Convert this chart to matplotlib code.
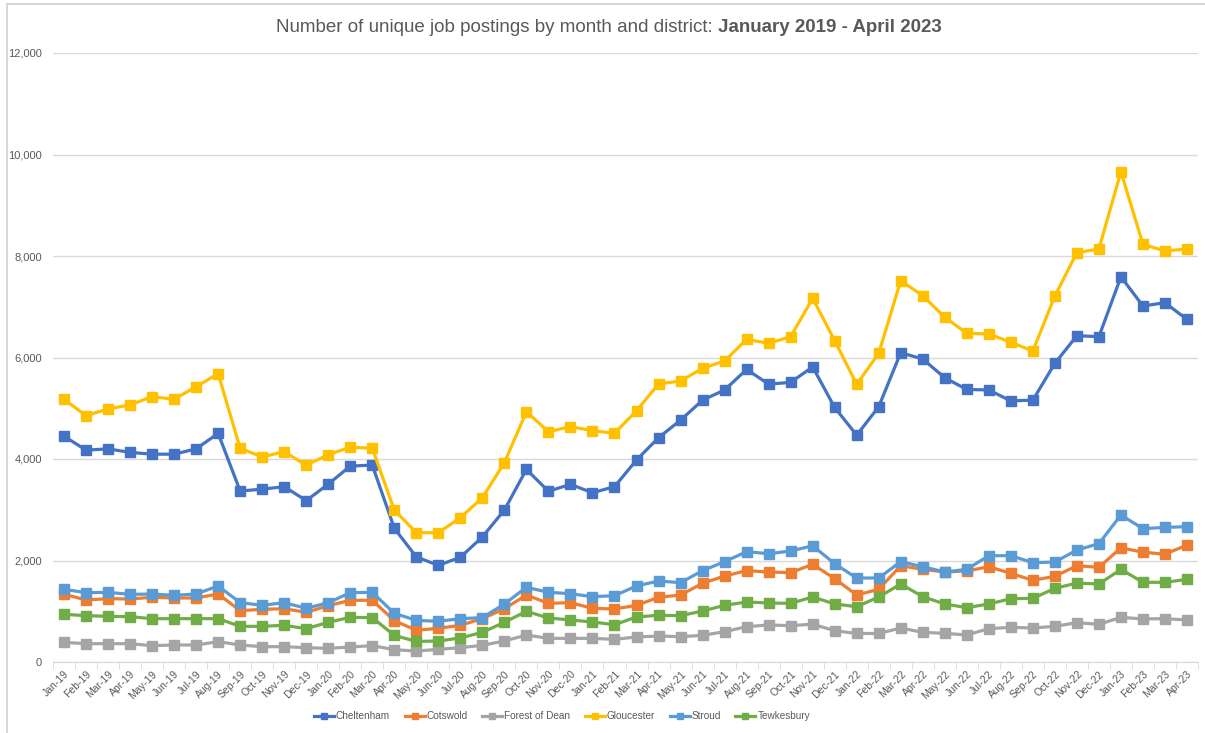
import numpy as np
import matplotlib
matplotlib.use("Agg")
import matplotlib.pyplot as plt
from matplotlib.ticker import FuncFormatter, FixedLocator

plt.rcParams['font.family'] = ['Liberation Sans Narrow', 'Liberation Sans', 'DejaVu Sans']

months = ["Jan", "Feb", "Mar", "Apr", "May", "Jun", "Jul", "Aug", "Sep", "Oct", "Nov", "Dec"]
labels = [f"{m}-{y}" for y in ["19", "20", "21", "22"] for m in months] + ["Jan-23", "Feb-23", "Mar-23", "Apr-23"]

cheltenham = [4450, 4175, 4200, 4130, 4095, 4095, 4200, 4505, 3370, 3405, 3455, 3180,
              3505, 3860, 3880, 2635, 2070, 1905, 2063, 2465, 2995, 3795, 3365, 3500,
              3335, 3455, 3980, 4420, 4765, 5160, 5360, 5765, 5475, 5510, 5815, 5015,
              4470, 5030, 6095, 5970, 5600, 5370, 5360, 5145, 5160, 5885, 6430, 6410,
              7590, 7015, 7080, 6750]
cotswold = [1335, 1222, 1248, 1241, 1275, 1261, 1261, 1340, 1011, 1038, 1050, 978,
            1110, 1215, 1215, 815, 625, 664, 723, 854, 1050, 1320, 1156, 1169,
            1058, 1044, 1117, 1275, 1320, 1550, 1695, 1800, 1773, 1760, 1925, 1642,
            1320, 1432, 1898, 1826, 1773, 1793, 1878, 1747, 1609, 1688, 1898, 1865,
            2250, 2164, 2124, 2305]
forest_of_dean = [387, 361, 361, 361, 322, 335, 335, 400, 335, 302, 302, 282,
                  269, 295, 322, 243, 215, 250, 282, 329, 414, 532, 466, 466,
                  466, 446, 493, 512, 499, 525, 598, 696, 729, 716, 745, 617,
                  562, 562, 670, 585, 565, 532, 657, 683, 670, 703, 775, 742,
                  880, 848, 854, 828]
gloucester = [5176, 4855, 4987, 5066, 5229, 5176, 5426, 5680, 4212, 4040, 4145, 3876,
              4086, 4231, 4212, 2995, 2548, 2548, 2843, 3237, 3927, 4932, 4538, 4637,
              4558, 4506, 4952, 5478, 5537, 5787, 5931, 6358, 6280, 6410, 7166, 6333,
              5472, 6083, 7514, 7218, 6792, 6477, 6463, 6300, 6128, 7212, 8066, 8138,
              9662, 8230, 8100, 8138]
stroud = [1432, 1366, 1372, 1333, 1340, 1313, 1340, 1498, 1169, 1117, 1169, 1058,
          1169, 1366, 1372, 960, 820, 802, 854, 874, 1143, 1472, 1373, 1346,
          1287, 1307, 1498, 1596, 1563, 1800, 1977, 2174, 2134, 2187, 2290, 1937,
          1655, 1655, 1977, 1878, 1773, 1826, 2095, 2095, 1957, 1970, 2207, 2332,
          2897, 2627, 2653, 2666]
tewkesbury = [939, 913, 900, 893, 854, 854, 854, 854, 703, 703, 723, 657,
              782, 880, 874, 525, 405, 414, 473, 585, 782, 999, 867, 828,
              788, 735, 887, 920, 913, 1005, 1117, 1182, 1163, 1156, 1281, 1143,
              1090, 1281, 1537, 1287, 1143, 1071, 1143, 1248, 1254, 1451, 1556, 1536,
              1826, 1570, 1570, 1629]

series = [
    ("Cheltenham", cheltenham, "#4472C4"),
    ("Cotswold", cotswold, "#ED7D31"),
    ("Forest of Dean", forest_of_dean, "#A5A5A5"),
    ("Gloucester", gloucester, "#FFC000"),
    ("Stroud", stroud, "#5B9BD5"),
    ("Tewkesbury", tewkesbury, "#70AD47"),
]

W, H = 1205, 733
fig = plt.figure(figsize=(W / 100, H / 100), dpi=100)
ax = fig.add_axes([53 / W, (H - 662) / H, (1198 - 53) / W, (662 - 53) / H])

x = np.arange(len(labels))
handles = []
for name, vals, col in series:
    h, = ax.plot(x, vals, color=col, lw=2.3, marker="s", ms=6.5, mec=col, mfc=col, label=name)
    handles.append(h)

ax.set_xlim(-0.5, len(labels) - 0.5)
ax.set_ylim(0, 12000)
ax.set_yticks(np.arange(0, 12001, 2000))
ax.yaxis.set_major_formatter(FuncFormatter(lambda v, p: f"{int(v):,}"))
ax.grid(axis="y", color="#D9D9D9", lw=1)
ax.set_axisbelow(True)
for s in ["top", "right", "left"]:
    ax.spines[s].set_visible(False)
ax.spines["bottom"].set_color("#D9D9D9")
ax.tick_params(axis="y", length=0, labelsize=8, labelcolor="#595959", pad=8)

ax.set_xticks(x)
ax.set_xticklabels(labels, rotation=45, ha="right", rotation_mode="anchor", fontsize=7.5, color="#595959")
ax.tick_params(axis="x", which="major", length=0, pad=5)
ax.xaxis.set_minor_locator(FixedLocator(np.arange(-0.5, len(labels), 1)))
ax.tick_params(axis="x", which="minor", length=5, color="#D9D9D9", direction="out")

# chart border (left + top)
fig.add_artist(plt.Line2D([7 / W, 7 / W], [0, 1 - 4 / H], color="#D0D0D0", lw=1.2))
fig.add_artist(plt.Line2D([7 / W, 1], [1 - 4 / H, 1 - 4 / H], color="#D0D0D0", lw=1.2))

# title: regular + bold parts
t1 = fig.text(0, 1 - 27 / H, "Number of unique job postings by month and district: ",
              fontsize=13.5, color="#595959", va="center", ha="left")
t2 = fig.text(0, 1 - 27 / H, "January 2019 - April 2023",
              fontsize=13.5, color="#595959", va="center", ha="left", fontweight="bold")
fig.canvas.draw()
r = fig.canvas.get_renderer()
w1 = t1.get_window_extent(r).width
w2 = t2.get_window_extent(r).width
start = 609 - (w1 + w2) / 2
t1.set_x(start / W)
t2.set_x((start + w1) / W)

fig.legend(handles=handles, loc="center", bbox_to_anchor=(562 / W, 1 - 716 / H), ncol=6,
           frameon=False, fontsize=7.2, labelcolor="#595959", handlelength=2.0,
           handletextpad=0.2, columnspacing=1.45, markerscale=0.75)

fig.savefig("out.png", dpi=100, facecolor="white")
